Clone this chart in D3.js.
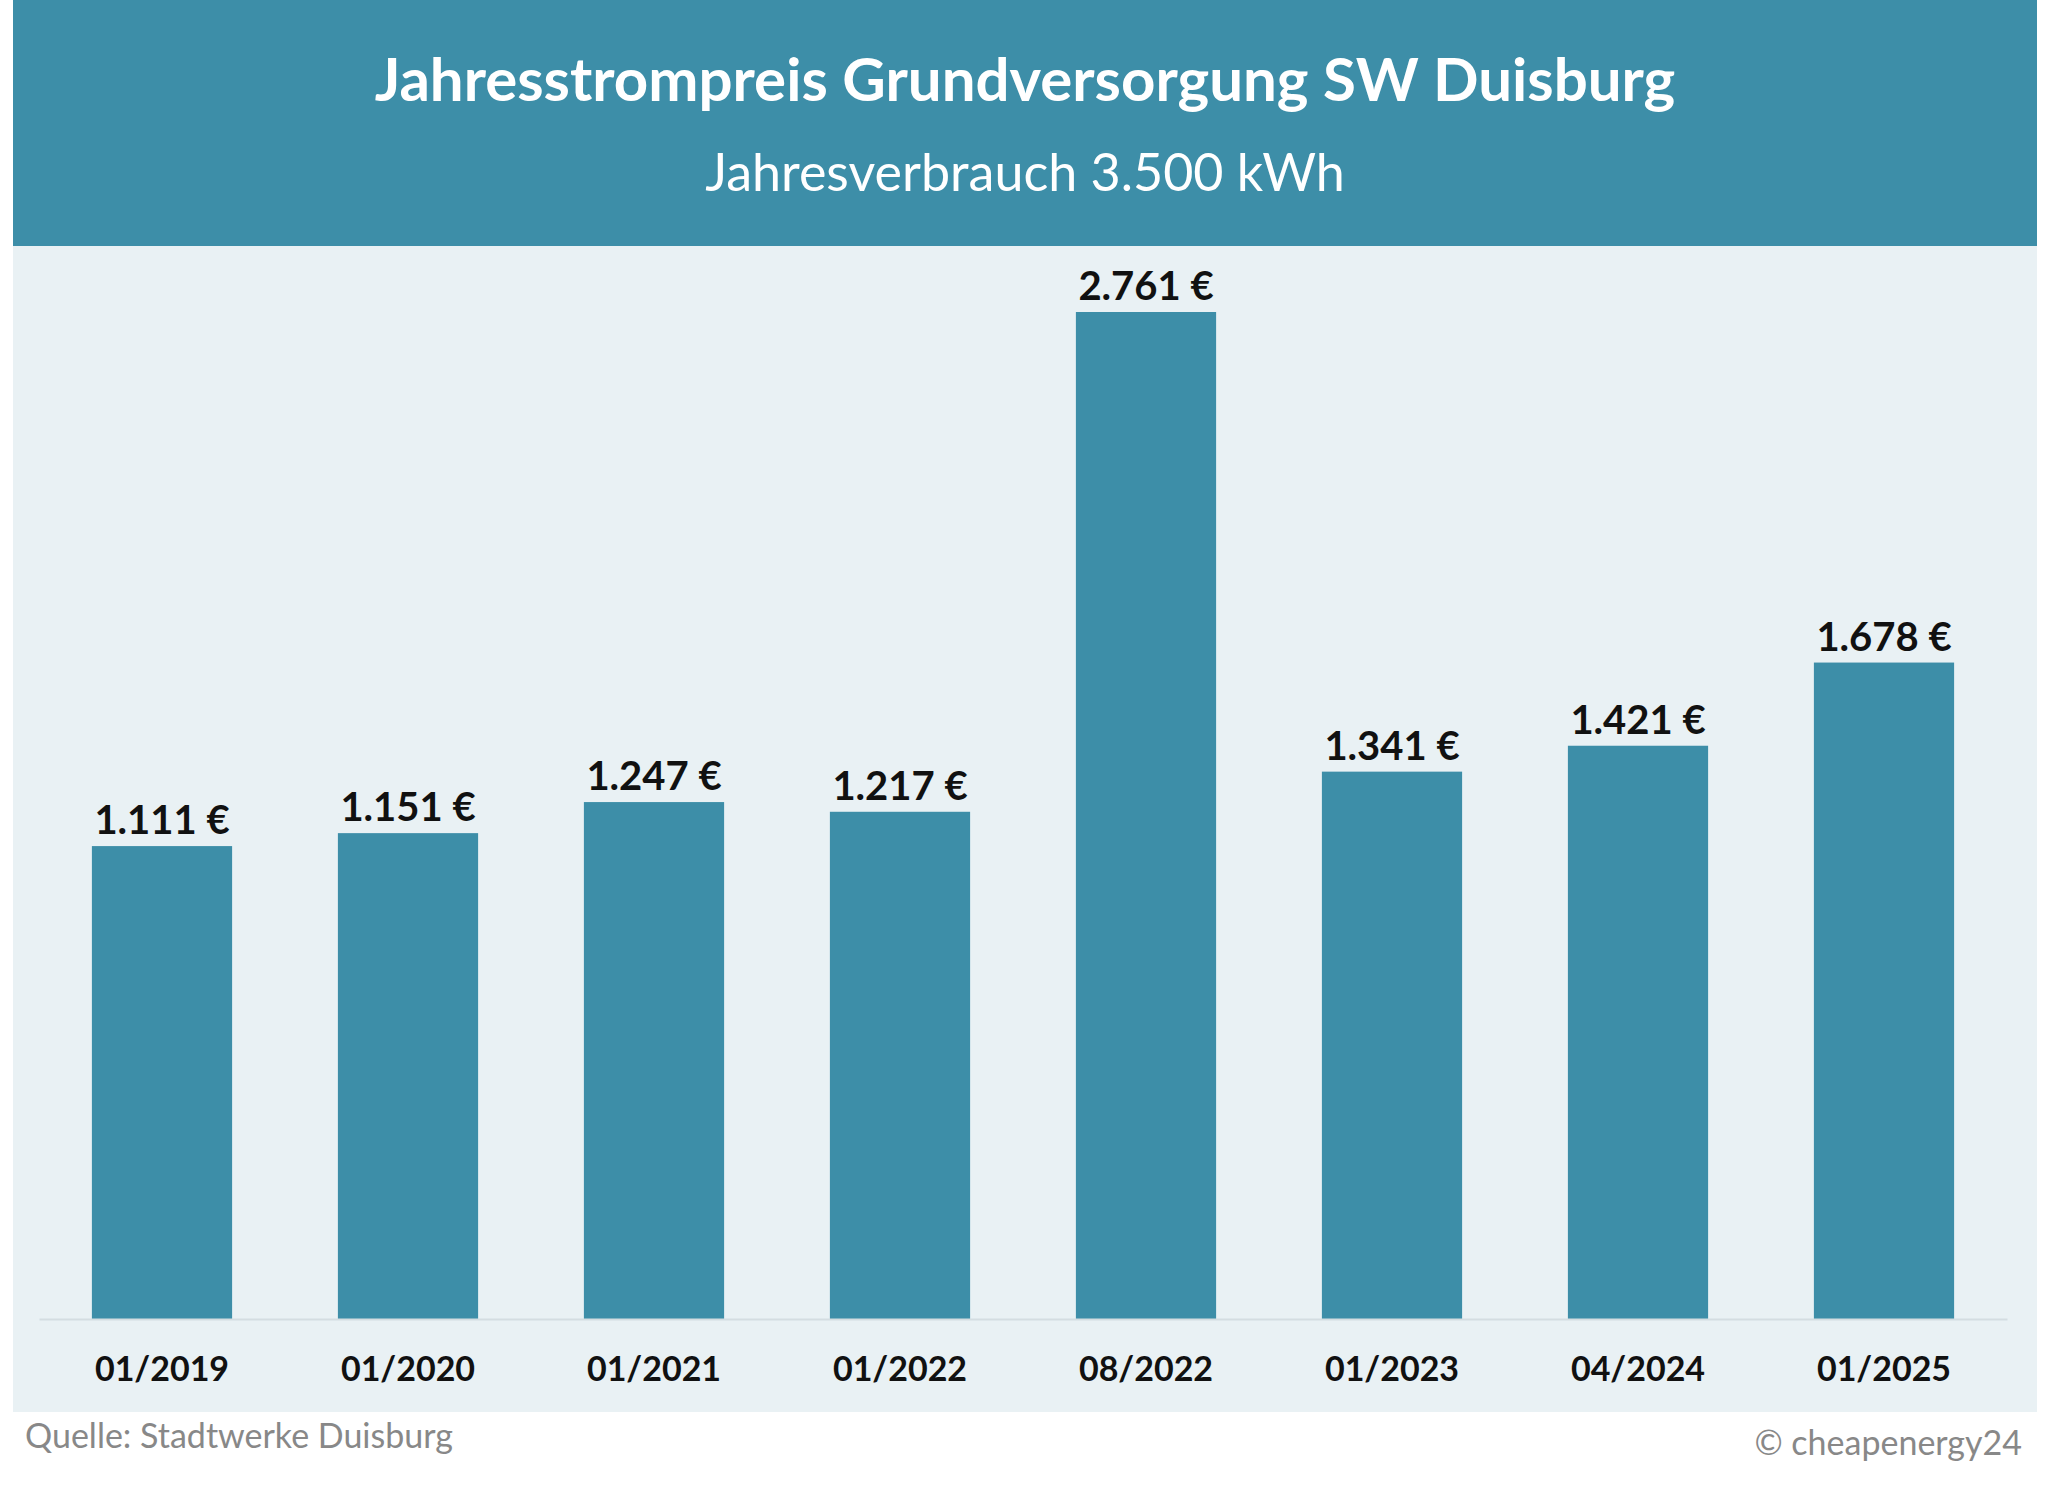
<!DOCTYPE html>
<html>
<head>
<meta charset="utf-8">
<script src="https://cdn.jsdelivr.net/npm/d3@7"></script>
<style>
  body { margin: 0; background: #fff; }
  text { font-family: Lato, "Open Sans", sans-serif; }
</style>
</head>
<body>
<svg id="chart"></svg>
<script>
// Data
const categories = ["01/2019", "01/2020", "01/2021", "01/2022", "08/2022", "01/2023", "04/2024", "01/2025"];
const prices = [1111, 1151, 1247, 1217, 2761, 1341, 1421, 1678];
const title = "Jahresstrompreis Grundversorgung SW Duisburg";
const subtitle = "Jahresverbrauch 3.500 kWh";

const width = 2048, height = 1490;
const color = "#3d8ea8";
const fmt = v => d3.format(",")(v).replace(/,/g, ".") + " €";

const svg = d3.select("#chart")
  .attr("width", width)
  .attr("height", height)
  .attr("viewBox", [0, 0, width, height]);

// Panels
svg.append("rect").attr("x", 13).attr("y", 246).attr("width", 2024).attr("height", 1166).attr("fill", "#e9f1f4");
svg.append("rect").attr("x", 13).attr("y", 0).attr("width", 2024).attr("height", 246).attr("fill", color);

svg.append("text").attr("x", 1025).attr("y", 101).attr("text-anchor", "middle")
  .attr("fill", "#fff").attr("font-weight", "bold").attr("font-size", 60).text(title);
svg.append("text").attr("x", 1025).attr("y", 191).attr("text-anchor", "middle")
  .attr("fill", "#fff").attr("font-size", 52).text(subtitle);

// Scales
const x = d3.scaleBand().domain(categories).range([39, 2007]).paddingInner(0.43).paddingOuter(0.215);
const y = d3.scaleLinear().domain([-350, 2761]).range([1319, 312]);

// Bars
svg.selectAll("rect.bar")
  .data(prices)
  .join("rect")
  .attr("class", "bar")
  .attr("x", (d, i) => x(categories[i]))
  .attr("y", d => y(d))
  .attr("width", x.bandwidth())
  .attr("height", d => y(-350) - y(d))
  .attr("fill", color);

// Value labels
svg.selectAll("text.val")
  .data(prices)
  .join("text")
  .attr("class", "val")
  .attr("x", (d, i) => x(categories[i]) + x.bandwidth() / 2)
  .attr("y", d => y(d) - 12)
  .attr("text-anchor", "middle")
  .attr("font-weight", "bold")
  .attr("font-size", 40)
  .attr("fill", "#111")
  .text(fmt);

// Axis
const axis = svg.append("g").attr("transform", "translate(0,1319)")
  .call(d3.axisBottom(x).tickSize(0).tickPadding(38));
axis.select(".domain").attr("stroke", "#d4dde1").attr("stroke-width", 2);
axis.selectAll("text").attr("font-size", 34).attr("font-weight", "bold").attr("fill", "#111")
  .attr("font-family", "Lato, sans-serif");

// Footer
svg.append("text").attr("x", 25).attr("y", 1448).attr("font-size", 34).attr("fill", "#888")
  .text("Quelle: Stadtwerke Duisburg");
svg.append("text").attr("x", 2022).attr("y", 1455).attr("text-anchor", "end").attr("font-size", 34).attr("fill", "#888")
  .text("© cheapenergy24");
</script>
</body>
</html>
